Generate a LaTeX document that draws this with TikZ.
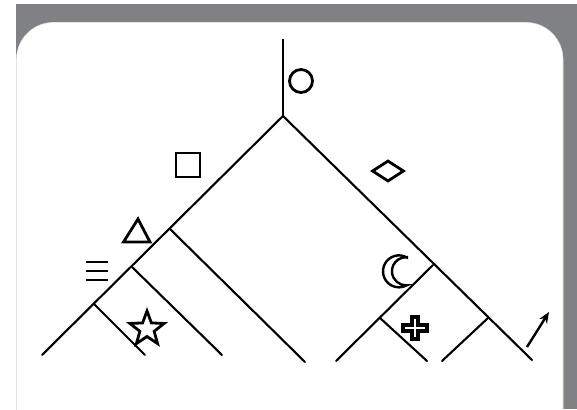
\documentclass[tikz,border=0pt]{standalone}
\usetikzlibrary{shapes.geometric,arrows.meta}
\definecolor{framegray}{RGB}{128,129,133}
\begin{document}
\begin{tikzpicture}[x=1pt,y=-1pt,
  branch/.style={line width=2.1pt,line cap=round},
  sym/.style={draw=black,line width=2.8pt,fill=white,inner sep=0pt}]
\useasboundingbox (0,0) rectangle (577,409);
% frame
\fill[framegray] (16,4) rectangle (577,409);
\begin{scope}
\clip (0,0) rectangle (577,409);
\filldraw[fill=white,draw=gray!20,line width=0.6pt,rounded corners=37pt] (16.5,22.5) rectangle (563,470);
\end{scope}
% tree points
\coordinate (top) at (283,39);
\coordinate (root) at (283,116);
\coordinate (le) at (42,355);
\coordinate (a) at (170,229);
\coordinate (ae) at (305,362);
\coordinate (b) at (132,267);
\coordinate (be) at (222,355);
\coordinate (c) at (94,304);
\coordinate (ce) at (145,355);
\coordinate (re) at (532,360);
\coordinate (d) at (433,265);
\coordinate (de) at (336,361);
\coordinate (e) at (488,318);
\coordinate (ee) at (442,361);
\coordinate (f) at (380,318);
\coordinate (fe) at (427,361);
% branches
\draw[line width=1.8pt] (top) -- (root);
\draw[branch] (root) -- (le);
\draw[branch] (root) -- (re);
\draw[branch] (a) -- (ae);
\draw[branch] (b) -- (be);
\draw[branch] (c) -- (ce);
\draw[branch] (d) -- (de);
\draw[branch] (e) -- (ee);
\draw[branch] (f) -- (fe);
% symbols
\node[sym,circle,minimum size=23pt] (circ) at (301,81) {};
\node[sym,rectangle,minimum size=24pt] (sq) at (188,165) {};
\node[sym,diamond,minimum width=32pt,minimum height=21pt] (dia) at (388,171) {};
\draw[line width=2.8pt,line join=miter] (138,219) -- (150,242) -- (123.5,242) -- cycle;
\draw[line width=2.4pt] (86,262) -- (108,262) (86,271) -- (108,271) (86,280) -- (108,280);
\node[sym,star,star points=5,star point ratio=2.4,minimum size=36pt] (st) at (147,329) {};
\filldraw[fill=white,line width=2.4pt,line join=miter]
  (407,257.5) arc[start angle=-60,end angle=-300,radius=16]
  arc[start angle=85.9,end angle=274.1,radius=14.04] -- cycle;
\filldraw[fill=white,line width=3.6pt,line join=miter]
  (412,317) -- (418,317) -- (418,325) -- (427,325) -- (427,331) -- (418,331)
  -- (418,339) -- (412,339) -- (412,331) -- (403,331) -- (403,325) -- (412,325) -- cycle;
\coordinate (arrs) at (527,347);
\coordinate (arre) at (549,312);
\draw[line width=2.4pt,-{Stealth[length=11pt,width=9pt]}] (arrs) -- (arre);
\end{tikzpicture}
\end{document}
